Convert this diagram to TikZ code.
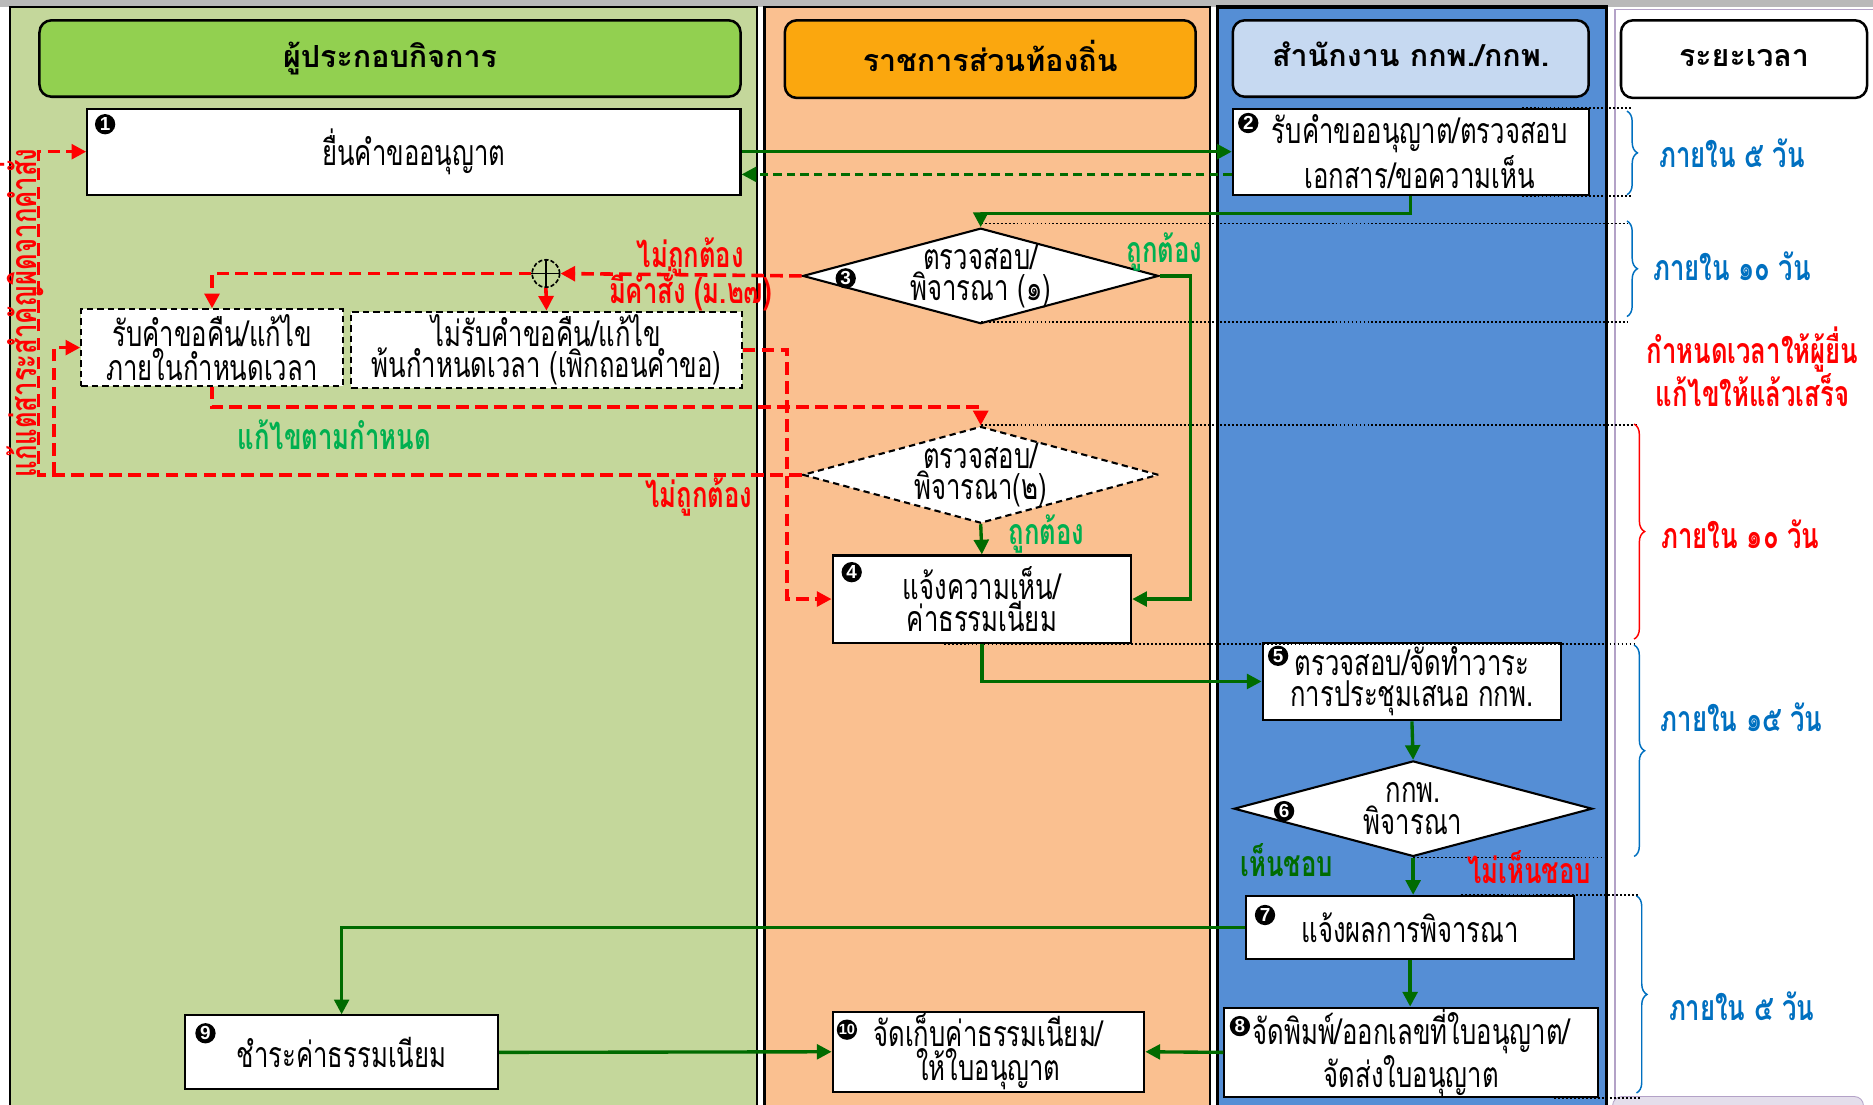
\documentclass[tikz,border=0pt]{standalone}
\usepackage{fontspec}
\setmainfont[Script=Thai, FakeStretch=0.72]{Loma}
\newfontfamily\headfont[Script=Thai]{Loma}
\newfontfamily\numfont{Liberation Sans}
\usetikzlibrary{shapes.geometric, arrows.meta, calc, decorations.pathreplacing}
\definecolor{lanegreen}{HTML}{C4D79B}
\definecolor{headgreen}{HTML}{92D050}
\definecolor{laneorange}{HTML}{FAC090}
\definecolor{headorange}{HTML}{FBA70E}
\definecolor{laneblue}{HTML}{558ED5}
\definecolor{headblue}{HTML}{C6D9F1}
\definecolor{arrowgreen}{HTML}{006B00}
\definecolor{okgreen}{HTML}{00B050}
\definecolor{tblue}{HTML}{0070C0}
\definecolor{lavender}{HTML}{B3A2C7}
\begin{document}
\begin{tikzpicture}[x=0.02cm, y=-0.02cm,
box/.style={draw, fill=white, line width=1pt, align=center, inner sep=0pt, font=\fontsize{17}{14.9}\selectfont},
dbox/.style={box, dash pattern=on 3pt off 2pt},
decide/.style={box, diamond, aspect=3.7, inner sep=-1.3pt},
head/.style={draw, rounded corners=0.2cm, line width=1.2pt, inner sep=0pt, font=\headfont\bfseries\fontsize{14.5}{14.5}\selectfont},
num/.style={circle, fill=black, text=white, inner sep=0pt, minimum size=0.34cm, font=\numfont\bfseries\fontsize{9}{9}\selectfont},
lab/.style={inner sep=0pt, align=center, font=\bfseries\fontsize{17}{14.9}\selectfont},
garrow/.style={draw=arrowgreen, line width=1.6pt, -{Triangle[length=7pt,width=7pt]}},
rarrow/.style={draw=red, line width=1.7pt, dash pattern=on 6pt off 3pt, -{Triangle[length=7pt,width=7pt]}},
timebrace/.style={decorate, decoration={brace, amplitude=5pt}, line width=0.7pt},
sep/.style={densely dotted, line width=0.9pt}]
\useasboundingbox (0,0) rectangle (1568,925);
\begin{scope}
\clip (0,0) rectangle (1568,925);
\fill[gray!55] (0,0) rectangle (1568,6);
\draw[fill=lanegreen, line width=1pt] (8,6) rectangle (634,935);
\draw[fill=laneorange, line width=1pt] (640,6) rectangle (1013,935);
\draw[fill=laneblue, line width=1.6pt] (1019,6) rectangle (1345,935);
\draw[draw=lavender, fill=white, line width=0.6pt] (1352,8) rectangle (1575,935);
\draw[draw=lavender, fill=lavender!35, rounded corners=0.15cm] (1350,918) rectangle (1560,945);
\end{scope}

\node[head, fill=headgreen, minimum width=11.74cm, minimum height=1.28cm] (h1) at (326.5,49) {\raisebox{0.14cm}{ผู้ประกอบกิจการ}};
\node[head, fill=headorange, minimum width=6.88cm, minimum height=1.3cm] (h2) at (829,49.5) {\raisebox{0.12cm}{ราชการส่วนท้องถิ่น}};
\node[head, fill=headblue, minimum width=5.96cm, minimum height=1.28cm] (h3) at (1181,49) {\raisebox{0.14cm}{สำนักงาน กกพ./กกพ.}};
\node[head, fill=white, minimum width=4.12cm, minimum height=1.3cm] (h4) at (1460,49.5) {\raisebox{0.05cm}{ระยะเวลา}};

\node[box, minimum width=10.94cm, minimum height=1.44cm] (1) at (346.5,127) {ยื่นคำขออนุญาต};
\node[box, minimum width=5.96cm, minimum height=1.44cm] (2) at (1181,127) {\hspace{0.3cm}รับคำขออนุญาต/ตรวจสอบ\\\hspace{0.3cm}เอกสาร/ขอความเห็น};
\node[decide, minimum width=5.96cm, minimum height=1.6cm] (3) at (821,231) {ตรวจสอบ/\\พิจารณา (๑)};
\node[dbox, minimum width=4.38cm, minimum height=1.28cm] (11) at (177.5,291) {รับคำขอคืน/แก้ไข\\ภายในกำหนดเวลา};
\node[dbox, minimum width=6.54cm, minimum height=1.28cm] (12) at (457.5,293) {ไม่รับคำขอคืน/แก้ไข\\พ้นกำหนดเวลา (เพิกถอนคำขอ)};
\node[decide, dash pattern=on 3pt off 2pt, minimum width=5.96cm, minimum height=1.62cm] (13) at (821,397.5) {ตรวจสอบ/\\พิจารณา(๒)};
\node[box, minimum width=5cm, minimum height=1.46cm] (4) at (822,501.5) {แจ้งความเห็น/\\ค่าธรรมเนียม};
\node[box, minimum width=5cm, minimum height=1.3cm] (5) at (1182,570.5) {ตรวจสอบ/จัดทำวาระ\\การประชุมเสนอ กกพ.};
\node[decide, minimum width=6cm, minimum height=1.6cm] (6) at (1183,677) {กกพ.\\พิจารณา};
\node[box, minimum width=5.5cm, minimum height=1.06cm] (7) at (1180.5,776.5) {แจ้งผลการพิจารณา};
\node[box, minimum width=6.26cm, minimum height=1.36cm] (8) at (1181.5,881) {จัดพิมพ์/ออกเลขที่ใบอนุญาต/\\จัดส่งใบอนุญาต};
\node[box, minimum width=5.24cm, minimum height=1.24cm] (9) at (286,881) {ชำระค่าธรรมเนียม};
\node[box, minimum width=5.22cm, minimum height=1.34cm] (10) at (827.5,880.5) {จัดเก็บค่าธรรมเนียม/\\ให้ใบอนุญาต};
\node[circle, draw, dash pattern=on 2pt off 1pt, line width=0.8pt, minimum size=0.46cm, inner sep=0pt] (14) at (457,229) {};
\draw[line width=0.6pt] (14.north) -- (14.south) (14.west) -- (14.east);

\node[num] (1n) at (88,104) {1};
\node[num] (2n) at (1045,103) {2};
\node[num] (3n) at (708,233) {3};
\node[num] (4n) at (713,479) {4};
\node[num] (5n) at (1070,549) {5};
\node[num] (6n) at (1075,679) {6};
\node[num] (7n) at (1059,766) {7};
\node[num] (8n) at (1038,859) {8};
\node[num] (9n) at (172,865) {9};
\node[num, font=\numfont\bfseries\fontsize{7}{7}\selectfont] (10n) at (709,862) {10};

\draw[sep] ($(2.north east)+(-57,0)$) -- ++(92,0);
\draw[sep] ($(2.south east)+(-57,0)$) -- ++(92,0);
\draw[sep] ($(3.north)+(0,-3)$) -- ++(541,0);
\draw[sep] ($(3.south)+(0,-2)$) -- ++(541,0);
\draw[sep] (13.north) -- ++(549,0);
\draw[sep] ($(4.south)+(-32,0)$) -- ++(580,0);
\draw[sep] (6.south) -- ++(162,0);
\draw[sep] ($(7.north east)+(-96,0)$) -- ++(150,0);
\draw[sep] ($(8.south east)+(-38,0)$) -- ++(72,0);

\draw[garrow] (1.east) -- (2.west);
\draw[garrow, dash pattern=on 4pt off 2.5pt] ($(2.west)+(0,19)$) -- ($(1.east)+(0,19)$);
\draw[garrow] (2.south) -- ++(0,15) -| (3.north);
\draw[garrow] (3.east) -- ++(26,0) |- (4.east);
\draw[rarrow] (3.west) -- (14.east);
\draw[rarrow] (14.west) -| (11.north);
\draw[rarrow] (14.south) -- (12.north);
\draw[rarrow] (11.south) -- ++(0,17) -| (13.north);
\draw[rarrow] (12.east) -- ++(37,0) |- (4.west);
\draw[rarrow] (13.west) -- ++(-639,0) |- (1.west);
\coordinate (15) at (45,397.5);
\draw[rarrow] (15) |- (11.west);
\draw[garrow] (13.south) -- (4.north);
\draw[garrow] (4.south) |- (5.west);
\draw[garrow] (5.south) -- (6.north);
\draw[garrow] (6.south) -- (6.south |- 7.north);
\draw[garrow] (7.west) -| (9.north);
\draw[garrow] (7.south) -- (7.south |- 8.north);
\draw[garrow] (9.east) -- (10.west);
\draw[garrow] (8.west) -- (10.east);

\node[lab, text=okgreen] (16) at (975,211) {ถูกต้อง};
\node[lab, text=red] (17) at (578,215) {ไม่ถูกต้อง};
\node[lab, text=red] (18) at (578,242) {มีคำสั่ง (ม.๒๗)};
\node[lab, text=okgreen] (19) at (280,364) {แก้ไขตามกำหนด};
\node[lab, text=red] (20) at (585,416) {ไม่ถูกต้อง};
\node[lab, text=okgreen] (21) at (876,447) {ถูกต้อง};
\node[lab, text=arrowgreen] (22) at (1077,720) {เห็นชอบ};
\node[lab, text=red] (23) at (1280,726) {ไม่เห็นชอบ};
\node[lab, text=red, rotate=90] (24) at (18,262) {แก้แต่สาระสำคัญผิดจากคำสั่ง};

\draw[timebrace, tblue] (1362,93) -- (1362,163);
\draw[timebrace, tblue] (1362,185) -- (1362,265);
\draw[timebrace, red] (1368,355) -- (1368,535);
\draw[timebrace, tblue] (1368,540) -- (1368,717);
\draw[timebrace, tblue] (1370,750) -- (1370,915);
\node[lab, text=tblue] (25) at (1450,128) {ภายใน ๕ วัน};
\node[lab, text=tblue] (26) at (1450,223) {ภายใน ๑๐ วัน};
\node[lab, text=red] (27) at (1467,307) {กำหนดเวลาให้ผู้ยื่น\\แก้ไขให้แล้วเสร็จ};
\node[lab, text=red] (28) at (1457,447) {ภายใน ๑๐ วัน};
\node[lab, text=tblue] (29) at (1458,600) {ภายใน ๑๕ วัน};
\node[lab, text=tblue] (30) at (1458,842) {ภายใน ๕ วัน};
\end{tikzpicture}
\end{document}
